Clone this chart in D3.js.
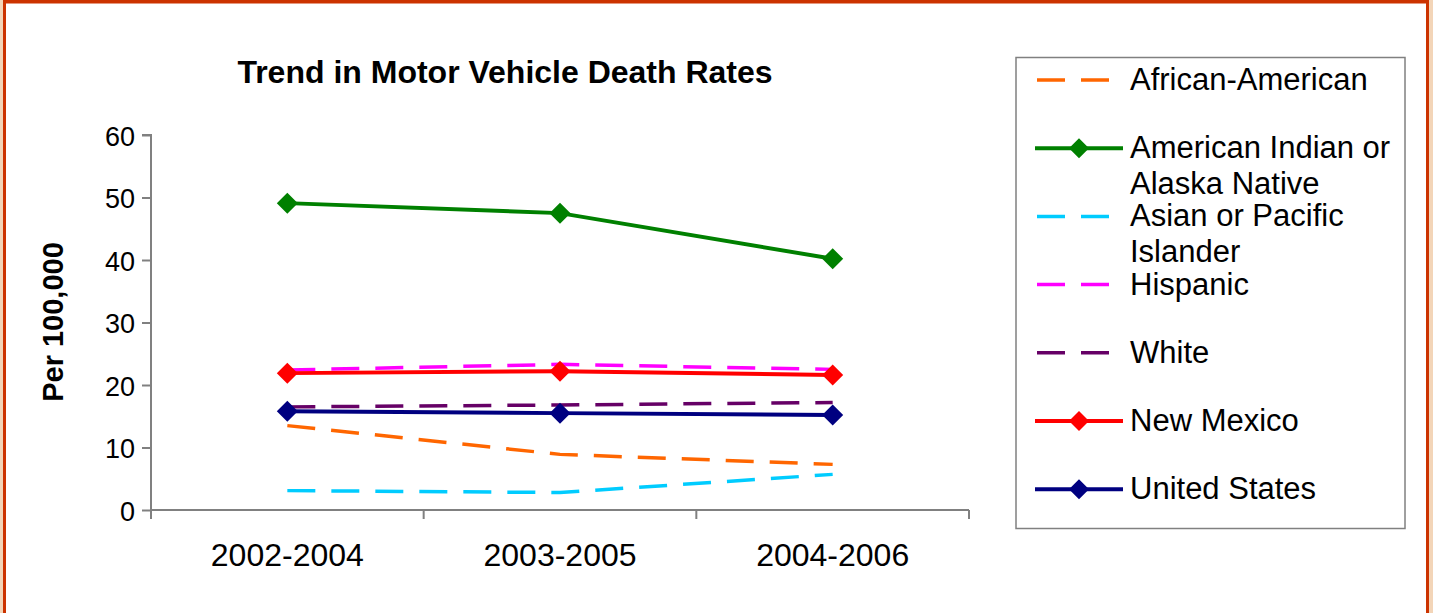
<!DOCTYPE html>
<html><head><meta charset="utf-8">
<script src="https://cdn.jsdelivr.net/npm/d3@7"></script>
<style>body{margin:0;background:#fff;}svg{display:block;font-family:"Liberation Sans",Arial,sans-serif;}</style>
</head><body><svg id="c" width="1433" height="613"></svg>
<script>
const categories = ["2002-2004","2003-2005","2004-2006"];
const yTicks = [0,10,20,30,40,50,60];
const africanAmerican = [13.5, 8.9, 7.3];
const americanIndian = [49.1, 47.5, 40.2];
const asianPacific = [3.1, 2.8, 5.7];
const hispanic = [22.4, 23.3, 22.5];
const white = [16.5, 16.8, 17.2];
const newMexico = [21.9, 22.2, 21.6];
const unitedStates = [15.8, 15.5, 15.2];
const seriesNames = ["African-American","American Indian or Alaska Native","Asian or Pacific Islander","Hispanic","White","New Mexico","United States"];
const legendLines = [["African-American"],["American Indian or","Alaska Native"],["Asian or Pacific","Islander"],["Hispanic"],["White"],["New Mexico"],["United States"]];
const seriesValues = [africanAmerican, americanIndian, asianPacific, hispanic, white, newMexico, unitedStates];
const seriesColors = ["#FF6600","#008000","#00CCFF","#FF00FF","#660066","#FF0000","#000080"];
const seriesDashed = [true,false,true,true,true,false,false];
const seriesMarker = [false,true,false,false,false,true,true];

const svg = d3.select("#c");
svg.append("rect").attr("x",0).attr("y",0).attr("width",1433).attr("height",613).attr("fill","#F3D5B8");
svg.append("rect").attr("x",3).attr("y",0).attr("width",1426).attr("height",620).attr("fill","#fff");
svg.append("rect").attr("x",4.5).attr("y",2).attr("width",1423).attr("height",640).attr("fill","none").attr("stroke","#CC3300").attr("stroke-width",3);
svg.append("rect").attr("x",3).attr("y",0).attr("width",1426).attr("height",2).attr("fill","#CC3300");

const x = d3.scaleBand().domain(categories).range([151,969]).paddingInner(0).paddingOuter(0);
const y = d3.scaleLinear().domain([0,60]).range([510,135]);

// title
svg.append("text").attr("x",505).attr("y",83).attr("text-anchor","middle")
  .attr("font-weight","bold").attr("font-size",32).text("Trend in Motor Vehicle Death Rates");

// y axis
const ya = svg.append("g").attr("transform","translate(151,0)")
  .call(d3.axisLeft(y).tickValues(yTicks).tickSize(9).tickPadding(7).tickFormat(d3.format("d")));
ya.select(".domain").attr("stroke","#808080").attr("stroke-width",2).attr("d","M-9,135H0V510");
ya.selectAll(".tick line").attr("stroke","#808080").attr("stroke-width",2);
ya.selectAll(".tick text").attr("font-size",27).attr("font-family","Liberation Sans, Arial, sans-serif").attr("fill","#000").attr("dy","0.38em");

// x axis
const xa = svg.append("g").attr("transform","translate(0,510)")
  .call(d3.axisBottom(x).tickSize(0).tickPadding(0));
xa.select(".domain").attr("stroke","#808080").attr("stroke-width",2).attr("d","M151,0H969");
xa.selectAll(".tick text").attr("font-size",32).attr("font-family","Liberation Sans, Arial, sans-serif").attr("fill","#000").attr("y",56).attr("dy",0);
const bounds = [151].concat(categories.map(c => x(c)+x.bandwidth()));
xa.selectAll(".bnd").data(bounds).enter().append("line").attr("class","bnd")
  .attr("x1",d=>d).attr("x2",d=>d).attr("y1",0).attr("y2",9).attr("stroke","#808080").attr("stroke-width",2);

// y label
svg.append("text").attr("transform","translate(63,322) rotate(-90)").attr("text-anchor","middle")
  .attr("font-weight","bold").attr("font-size",29).text("Per 100,000");

const cx = c => x(c) + x.bandwidth()/2;
const line = d3.line().x((d,i)=>cx(categories[i])).y(d=>y(d));
const diamond = r => `M0,${-r}L${r},0L0,${r}L${-r},0Z`;

seriesValues.forEach((vals,si)=>{
  svg.append("path").attr("d",line(vals)).attr("fill","none").attr("stroke",seriesColors[si])
    .attr("stroke-width",seriesDashed[si]?3.5:4).attr("stroke-dasharray",seriesDashed[si]?"28,16":null);
  if(seriesMarker[si]){
    svg.selectAll(null).data(vals).enter().append("path").attr("d",diamond(10.5))
      .attr("transform",(d,i)=>`translate(${cx(categories[i])},${y(d)})`).attr("fill",seriesColors[si]);
  }
});

// legend
svg.append("rect").attr("x",1016).attr("y",57.5).attr("width",389).attr("height",471).attr("fill","#fff").attr("stroke","#808080").attr("stroke-width",1.5);
const lg = svg.append("g");
legendLines.forEach((lines,si)=>{
  const ly = 80 + si*68.2;
  if(seriesDashed[si]){
    lg.append("line").attr("x1",1037).attr("x2",1109).attr("y1",ly).attr("y2",ly).attr("stroke",seriesColors[si]).attr("stroke-width",3.5).attr("stroke-dasharray","28,16");
  } else {
    lg.append("line").attr("x1",1035).attr("x2",1123).attr("y1",ly).attr("y2",ly).attr("stroke",seriesColors[si]).attr("stroke-width",4);
    lg.append("path").attr("d",diamond(10)).attr("transform",`translate(1079,${ly})`).attr("fill",seriesColors[si]);
  }
  lines.forEach((t,li)=>{
    lg.append("text").attr("x",1130).attr("y",ly+10+li*36).attr("font-size",31).attr("fill","#000").text(t);
  });
});
</script></body></html>
